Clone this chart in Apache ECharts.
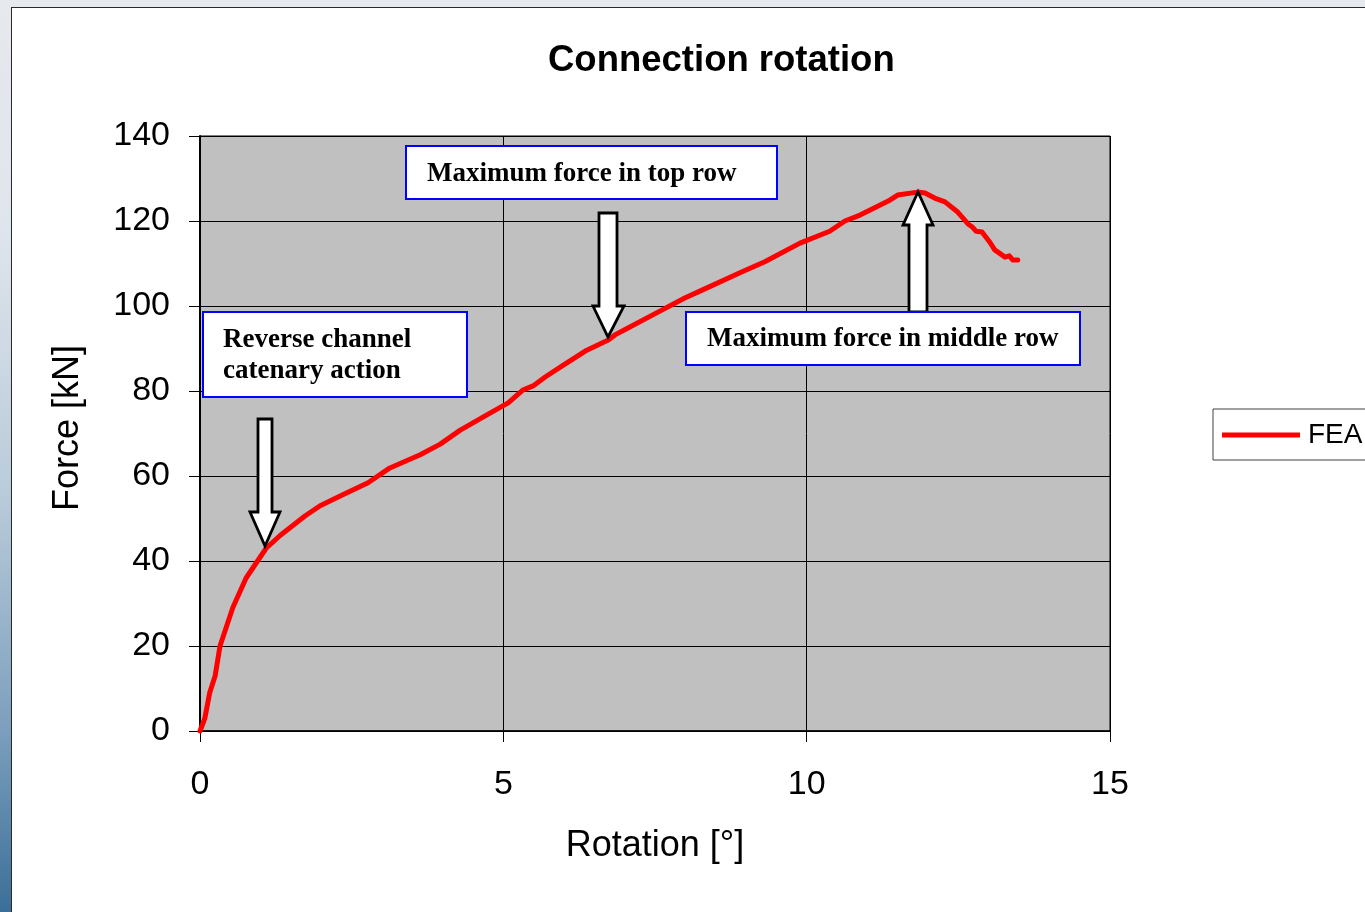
<!DOCTYPE html>
<html>
<head>
<meta charset="utf-8">
<script src="https://cdn.jsdelivr.net/npm/echarts@6/dist/echarts.min.js"></script>
<style>
  html, body { margin: 0; padding: 0; width: 1365px; height: 912px; overflow: hidden; }
  body { background: linear-gradient(to bottom, #e6e9ee 0%, #dfe5ec 25%, #b8cad9 55%, #7c9fbd 80%, #3b6f98 100%); position: relative; }
  #frame { position: absolute; left: 11px; top: 7px; width: 1500px; height: 1000px; background: #ffffff; border-left: 1.5px solid #2a2a2a; border-top: 1.5px solid #2a2a2a; }
  #chart { position: absolute; left: 0; top: 0; width: 1365px; height: 912px; }
</style>
</head>
<body>
<div id="frame"></div>
<div id="chart"></div>
<script>
// Rotation [°] values
var rotation = [0, 0.08, 0.16, 0.25, 0.33, 0.54, 0.76, 1.09, 1.32, 1.73, 1.98, 2.31, 2.77, 3.13, 3.63, 3.96, 4.29, 4.78, 5.08, 5.32, 5.49, 5.69, 5.97, 6.35, 6.73, 6.84, 7.0, 7.58, 7.99, 8.24, 8.9, 9.31, 9.89, 10.38, 10.63, 10.88, 11.37, 11.5, 11.83, 11.95, 12.11, 12.28, 12.49, 12.66, 12.73, 12.79, 12.89, 13.02, 13.1, 13.27, 13.34, 13.4, 13.48];
// Force [kN] values
var force = [0, 3, 9, 13, 20, 29, 36, 43, 46, 50.6, 53, 55.3, 58.4, 61.9, 65, 67.5, 70.8, 74.8, 77.2, 80.2, 81.2, 83.3, 85.9, 89.4, 92, 93.2, 94.4, 98.8, 101.9, 103.5, 107.8, 110.4, 114.8, 117.6, 120, 121.4, 124.9, 126.1, 126.8, 126.6, 125.4, 124.5, 122.1, 119.3, 118.6, 117.6, 117.4, 115, 113.2, 111.5, 111.8, 110.8, 110.8];
var seriesName = 'FEA';
var titleText = 'Connection rotation';
var xName = 'Rotation [°]';
var yName = 'Force [kN]';
var notes = ['Maximum force in top row', 'Reverse channel\ncatenary action', 'Maximum force in middle row'];

var data = rotation.map(function (x, i) { return [x, force[i]]; });

var chart = echarts.init(document.getElementById('chart'), null, { renderer: 'canvas' });

var boxFont = 'bold 27px "Liberation Serif", "Times New Roman", serif';
function box(x, y, w, h) {
  return { type: 'rect', z: 110, shape: { x: x, y: y, width: w, height: h }, style: { fill: '#ffffff', stroke: '#0000ff', lineWidth: 2 } };
}
function txt(x, y, t) {
  return { type: 'text', z: 111, x: x, y: y, style: { text: t, font: boxFont, fill: '#000000', textAlign: 'left', textVerticalAlign: 'middle' } };
}
function arrow(pts) {
  return { type: 'polygon', z: 105, shape: { points: pts }, style: { fill: '#ffffff', stroke: '#000000', lineWidth: 2.8, lineJoin: 'miter' } };
}

var option = {
  backgroundColor: 'transparent',
  animation: false,
  title: {
    text: titleText,
    left: 543,
    top: 37,
    textStyle: { fontFamily: '"Liberation Sans", Arial, sans-serif', fontSize: 36.5, fontWeight: 'bold', color: '#000000' }
  },
  legend: {
    data: [seriesName],
    left: 1213,
    top: 409,
    orient: 'vertical',
    backgroundColor: '#ffffff',
    borderColor: '#404040',
    borderWidth: 1,
    borderRadius: 0,
    padding: [12, 20, 11, 9],
    icon: 'rect',
    itemWidth: 78,
    itemHeight: 5,
    textStyle: { fontFamily: '"Liberation Sans", Arial, sans-serif', fontSize: 28, color: '#000000', padding: [0, 0, 0, 3] }
  },
  grid: {
    left: 200, right: 255, top: 136, bottom: 181,
    show: true, backgroundColor: '#c0c0c0', borderColor: '#000000', borderWidth: 1,
    containLabel: false
  },
  xAxis: {
    type: 'value', min: 0, max: 15, interval: 5,
    name: xName, nameLocation: 'middle', nameGap: 97,
    nameTextStyle: { fontFamily: '"Liberation Sans", Arial, sans-serif', fontSize: 36, color: '#000000' },
    axisLine: { show: true, onZero: false, lineStyle: { color: '#000000', width: 1.5 } },
    axisTick: { show: true, inside: false, length: 11, lineStyle: { color: '#000000', width: 1 } },
    axisLabel: { margin: 37, fontFamily: '"Liberation Sans", Arial, sans-serif', fontSize: 34, color: '#000000' },
    splitLine: { show: true, lineStyle: { color: '#000000', width: 1 } }
  },
  yAxis: {
    type: 'value', min: 0, max: 140, interval: 20,
    name: yName, nameLocation: 'middle', nameGap: 114, nameRotate: 90,
    nameTextStyle: { fontFamily: '"Liberation Sans", Arial, sans-serif', fontSize: 36, color: '#000000', padding: [0, 0, 0, 11] },
    axisLine: { show: true, onZero: false, lineStyle: { color: '#000000', width: 2 } },
    axisTick: { show: true, inside: false, length: 11, lineStyle: { color: '#000000', width: 1 } },
    axisLabel: { margin: 30, fontFamily: '"Liberation Sans", Arial, sans-serif', fontSize: 34, color: '#000000' },
    splitLine: { show: true, lineStyle: { color: '#000000', width: 1 } }
  },
  series: [{
    name: seriesName,
    type: 'line',
    data: data,
    showSymbol: false,
    symbol: 'none',
    smooth: false,
    clip: false,
    lineStyle: { color: '#ff0000', width: 5, cap: 'round', join: 'round' },
    itemStyle: { color: '#ff0000' },
    z: 3
  }],
  graphic: [
    // arrow for "Reverse channel catenary action"
    arrow([[258, 419], [272, 419], [272, 512], [280, 512], [265, 546], [250, 512], [258, 512]]),
    // arrow for "Maximum force in top row"
    arrow([[599, 213], [617, 213], [617, 306], [624, 306], [608, 337], [593, 306], [599, 306]]),
    // arrow for "Maximum force in middle row"
    arrow([[909, 312], [927, 312], [927, 225], [933, 225], [918, 192], [903, 225], [909, 225]]),
    box(406, 146, 371, 53),
    txt(427, 174, notes[0]),
    box(203, 312, 264, 85),
    txt(223, 340, notes[1].split('\n')[0]),
    txt(223, 371, notes[1].split('\n')[1]),
    box(686, 312, 394, 53),
    txt(707, 339, notes[2])
  ]
};
chart.setOption(option);
</script>
</body>
</html>
